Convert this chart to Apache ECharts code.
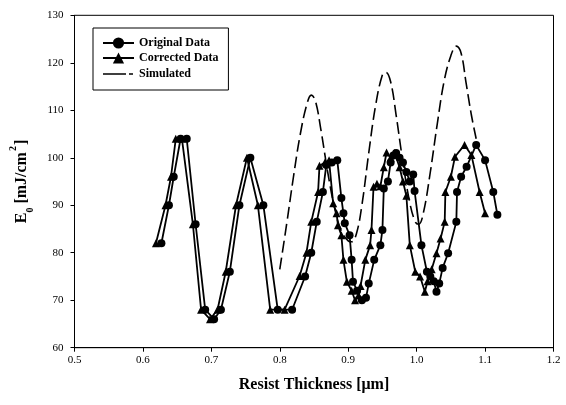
<!DOCTYPE html>
<html>
<head>
<meta charset="utf-8">
<script src="https://cdn.jsdelivr.net/npm/echarts@6/dist/echarts.min.js"></script>
<style>html,body{margin:0;padding:0;background:#fff}#c{width:566px;height:405px}</style>
</head>
<body>
<div id="c"></div>
<script>
var origX = [0.627,0.638,0.645,0.655,0.664,0.677,0.691,0.704,0.714,0.727,0.741,0.757,0.776,0.797,0.818,0.837,0.846,0.854,0.863,0.868,0.876,0.884,0.890,0.893,0.895,0.902,0.905,0.907,0.913,0.920,0.926,0.930,0.938,0.947,0.950,0.952,0.958,0.962,0.966,0.970,0.975,0.980,0.985,0.990,0.995,0.997,1.007,1.015,1.020,1.025,1.029,1.033,1.038,1.046,1.058,1.059,1.065,1.073,1.087,1.100,1.112,1.118];
var origY = [82,90,96,104,104,86,68,66,68,76,90,100,90,68,68,75,80,86.5,92.8,98.5,99,99.5,91.5,88.3,86.2,83.7,78.5,73.9,72,70,70.5,73.5,78.5,81.6,84.8,93.5,95,99,100.5,101,100,99,97,95,96.5,93,81.6,76,75,74,71.8,73.5,76.8,79.9,86.5,92.8,96,98.1,102.7,99.5,92.8,88];
var corrX = [0.619,0.633,0.641,0.648,0.657,0.673,0.685,0.698,0.709,0.721,0.736,0.752,0.768,0.786,0.807,0.829,0.839,0.846,0.856,0.858,0.866,0.872,0.878,0.883,0.885,0.890,0.893,0.898,0.905,0.910,0.915,0.918,0.925,0.932,0.934,0.937,0.942,0.947,0.952,0.956,0.962,0.968,0.975,0.980,0.985,0.990,0.998,1.005,1.012,1.016,1.022,1.029,1.035,1.041,1.042,1.050,1.056,1.070,1.080,1.092,1.100];
var corrY = [82,90,96,104,104,86,68,66,68,76,90,100,90,68,68,75.1,80,86.5,92.8,98.3,99,99.5,90.4,88.3,85.8,83.7,78.5,73.9,72,70,71,73,78.5,81.6,84.8,93.9,94.5,94,98,101.1,100,101,98,95,92,81.6,76,75,71.8,74,76.5,79.9,83,86.5,92.8,96,100.2,102.7,100.6,92.8,88.3];
var simX = [0.800,0.810,0.820,0.830,0.840,0.846,0.852,0.860,0.870,0.880,0.890,0.900,0.905,0.912,0.920,0.930,0.940,0.950,0.955,0.962,0.970,0.980,0.990,0.998,1.003,1.010,1.020,1.030,1.040,1.050,1.058,1.065,1.072,1.080,1.087];
var simY = [76.5,86,96,105,111.5,113.2,112,106,97,89.5,84.5,82.5,82.3,84,90,101,111,117.5,118,116,109,99,90.5,86.5,86,88.5,97,107,116,121.5,123.5,122,116,109,104];
var xTicks = ['0.5','0.6','0.7','0.8','0.9','1.0','1.1','1.2'];
var yTicks = ['60','70','80','90','100','110','120','130'];

function pairs(xs, ys){ return xs.map(function(x,i){ return [x, ys[i]]; }); }
var FONT = 'Liberation Serif';
var dashIcon = 'path://M0,0h0.01v0.01h-0.01z M0,6.2h23v1.6H0z M26,6.2h4v1.6h-4z M30.99,13.99h0.01v0.01h-0.01z';
var chart = echarts.init(document.getElementById('c'), null, {renderer:'canvas'});
chart.setOption({
  backgroundColor:'#fff',
  animation:false,
  grid:{left:74.5, right:12.5, top:15.3, bottom:57.3, show:true, borderColor:'#000', borderWidth:1, backgroundColor:'transparent'},
  legend:{
    left:93, top:28, orient:'vertical',
    backgroundColor:'#fff', borderColor:'#000', borderWidth:1, borderRadius:0,
    padding:[9,10,9,9], itemGap:3, itemWidth:31, itemHeight:14,
    textStyle:{fontFamily:FONT, fontWeight:'bold', fontSize:12, color:'#000'},
    data:['Original Data','Corrected Data',{name:'Simulated', icon:dashIcon, itemStyle:{color:'#000'}}]
  },
  xAxis:{
    type:'value', min:0.5, max:1.2, interval:0.1,
    axisLine:{lineStyle:{color:'#000', width:1}},
    axisTick:{show:true, inside:false, length:4, lineStyle:{color:'#000'}},
    splitLine:{show:false},
    axisLabel:{margin:7, color:'#000', fontFamily:FONT, fontSize:11,
      formatter:function(v){ var i=Math.round((v-0.5)*10); return xTicks[i]; }},
    name:'Resist Thickness [\u03bcm]', nameLocation:'middle', nameGap:29,
    nameTextStyle:{fontFamily:FONT, fontWeight:'bold', fontSize:16, color:'#000'}
  },
  yAxis:{
    type:'value', min:60, max:130, interval:10,
    axisLine:{show:true, lineStyle:{color:'#000', width:1}},
    axisTick:{show:true, inside:false, length:4, lineStyle:{color:'#000'}},
    splitLine:{show:false},
    axisLabel:{margin:11, color:'#000', fontFamily:FONT, fontSize:11,
      formatter:function(v){ var i=Math.round((v-60)/10); return yTicks[i]; }},
    name:'{b|E}{s|0}{b| [mJ/cm}{p|2}{b|]}', nameLocation:'middle', nameGap:42, nameRotate:90,
    nameTextStyle:{color:'#000', rich:{
      b:{fontFamily:FONT, fontWeight:'bold', fontSize:16, color:'#000', lineHeight:22, verticalAlign:'middle'},
      s:{fontFamily:FONT, fontWeight:'bold', fontSize:10, color:'#000', lineHeight:22, verticalAlign:'bottom', padding:[0,0,-3,0]},
      p:{fontFamily:FONT, fontWeight:'bold', fontSize:10, color:'#000', lineHeight:22, verticalAlign:'top', padding:[-2,1,0,1]}
    }}
  },
  series:[
    {name:'Original Data', type:'line', data:pairs(origX, origY), symbol:'circle', symbolSize:8,
     itemStyle:{color:'#000'}, lineStyle:{color:'#000', width:1.8}, showAllSymbol:true},
    {name:'Corrected Data', type:'line', data:pairs(corrX, corrY), symbol:'triangle', symbolSize:8,
     itemStyle:{color:'#000'}, lineStyle:{color:'#000', width:1.8}, showAllSymbol:true},
    {name:'Simulated', type:'line', data:pairs(simX, simY), symbol:'none', smooth:0.4,
     itemStyle:{color:'#000'}, lineStyle:{color:'#000', width:1.6, type:[12,5]}}
  ]
});
</script>
</body>
</html>
